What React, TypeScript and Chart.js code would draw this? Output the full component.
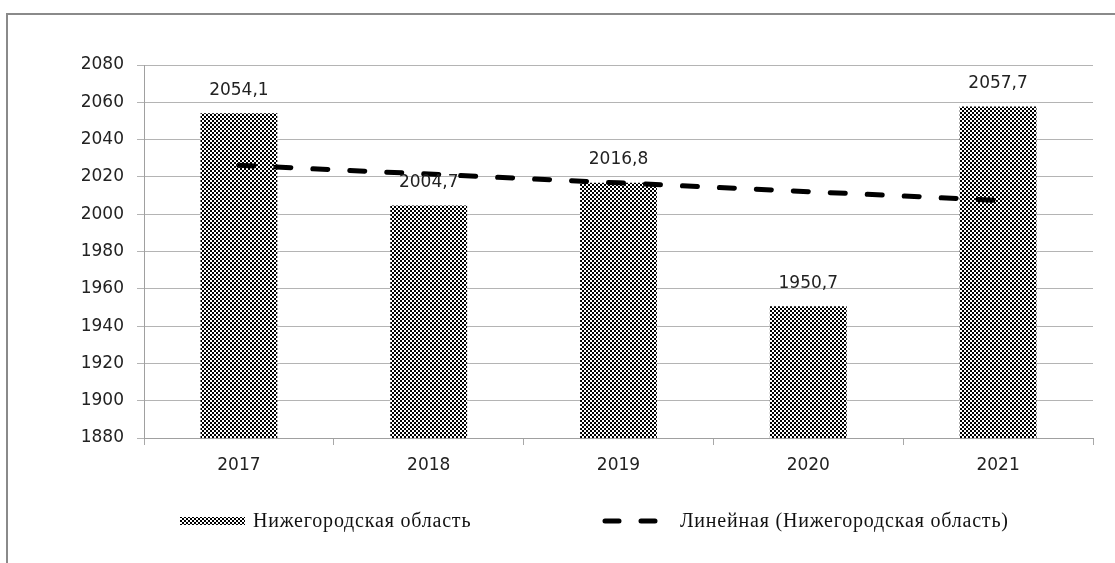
import React, { useEffect, useRef } from "react";
import { Chart, registerables } from "chart.js";

Chart.register(...registerables);

const categories = ["2017", "2018", "2019", "2020", "2021"];
const values = [2054.1, 2004.7, 2016.8, 1950.7, 2057.7];
const trendValues = [2026.2, 2021.5, 2016.8, 2012.1, 2007.4];
const seriesName = "Нижегородская область";
const trendName = "Линейная (Нижегородская область)";
const yMin = 1880;
const yMax = 2080;
const yStep = 20;

function makePattern(): CanvasPattern | string {
  const c = document.createElement("canvas");
  c.width = 4;
  c.height = 4;
  const g = c.getContext("2d");
  if (!g) return "#555";
  g.fillStyle = "#ffffff";
  g.fillRect(0, 0, 4, 4);
  g.fillStyle = "#000000";
  g.fillRect(0, 0, 2, 2);
  g.fillRect(2, 2, 2, 2);
  const p = g.createPattern(c, "repeat");
  return p || "#555";
}

export default function App() {
  const ref = useRef<HTMLCanvasElement | null>(null);

  useEffect(() => {
    const canvas = ref.current;
    if (!canvas) return;
    const pattern = makePattern();

    const framePlugin = {
      id: "frame",
      beforeDraw(chart: any) {
        const ctx = chart.ctx;
        ctx.save();
        ctx.fillStyle = "#8a8a8a";
        ctx.fillRect(6, 13, 2, 550);
        ctx.fillRect(6, 13, 1109, 2);
        ctx.restore();
      },
    };

    const labelPlugin = {
      id: "valueLabels",
      afterDatasetsDraw(chart: any) {
        const ctx = chart.ctx;
        const meta = chart.getDatasetMeta(1);
        ctx.save();
        ctx.font = "17px 'DejaVu Sans'";
        ctx.fillStyle = "#222";
        ctx.textAlign = "center";
        ctx.textBaseline = "middle";
        meta.data.forEach((el: any, i: number) => {
          const txt = values[i].toFixed(1).replace(".", ",");
          ctx.fillText(txt, el.x, el.y - 23);
        });
        ctx.restore();
      },
    };

    const legendPlugin = {
      id: "customLegend",
      afterDraw(chart: any) {
        const ctx = chart.ctx;
        const y = 521;
        ctx.save();
        ctx.fillStyle = pattern as any;
        ctx.fillRect(180, y - 4, 65, 8);
        ctx.font = "20px 'Liberation Serif'";
        try {
          (ctx as any).letterSpacing = "0.8px";
        } catch (e) {}
        ctx.fillStyle = "#111";
        ctx.textAlign = "left";
        ctx.textBaseline = "middle";
        ctx.fillText(seriesName, 253, y + 1);
        ctx.strokeStyle = "#000";
        ctx.lineWidth = 5;
        ctx.lineCap = "round";
        ctx.beginPath();
        ctx.moveTo(605, y);
        ctx.lineTo(619, y);
        ctx.moveTo(641, y);
        ctx.lineTo(655, y);
        ctx.stroke();
        ctx.fillText(trendName, 680, y + 1);
        ctx.restore();
      },
    };

    const chart = new Chart(canvas, {
      type: "bar",
      data: {
        labels: categories,
        datasets: [
          {
            type: "line",
            label: trendName,
            data: trendValues,
            borderColor: "#000",
            borderWidth: 5,
            borderDash: [15, 22],
            borderCapStyle: "round",
            pointRadius: 0,
            fill: false,
            tension: 0,
            order: 0,
          } as any,
          {
            type: "bar",
            label: seriesName,
            data: values,
            backgroundColor: pattern as any,
            borderWidth: 0,
            categoryPercentage: 1,
            barPercentage: 0.405,
            order: 1,
          } as any,
        ],
      },
      options: {
        responsive: false,
        animation: false,
        layout: { padding: { left: 0, top: 65, right: 22, bottom: 85 } },
        plugins: {
          legend: { display: false },
          tooltip: { enabled: false },
        },
        scales: {
          x: {
            offset: true,
            grid: {
              offset: true,
              drawOnChartArea: false,
              drawTicks: true,
              tickLength: 7,
              color: "#a8a8a8",
            },
            border: { color: "#a0a0a0", width: 1 },
            ticks: {
              color: "#222",
              font: { family: "'DejaVu Sans'", size: 17 },
              padding: 10,
              maxRotation: 0,
            },
            afterFit(s: any) {
              s.height = 40;
            },
          },
          y: {
            min: yMin,
            max: yMax,
            grid: {
              color: "#b4b4b4",
              tickLength: 7,
            },
            border: { color: "#a0a0a0", width: 1 },
            ticks: {
              stepSize: yStep,
              color: "#222",
              font: { family: "'DejaVu Sans'", size: 17 },
              padding: 13,
              callback: (v: any) => String(v),
            },
            afterFit(s: any) {
              s.width = 144;
            },
          },
        },
      },
      plugins: [framePlugin, labelPlugin, legendPlugin],
    });

    return () => chart.destroy();
  }, []);

  return (
    <div style={{ position: "absolute", left: 0, top: 0, width: 1115, height: 563, background: "#fff" }}>
      <canvas ref={ref} width={1115} height={563} style={{ display: "block" }} />
    </div>
  );
}
